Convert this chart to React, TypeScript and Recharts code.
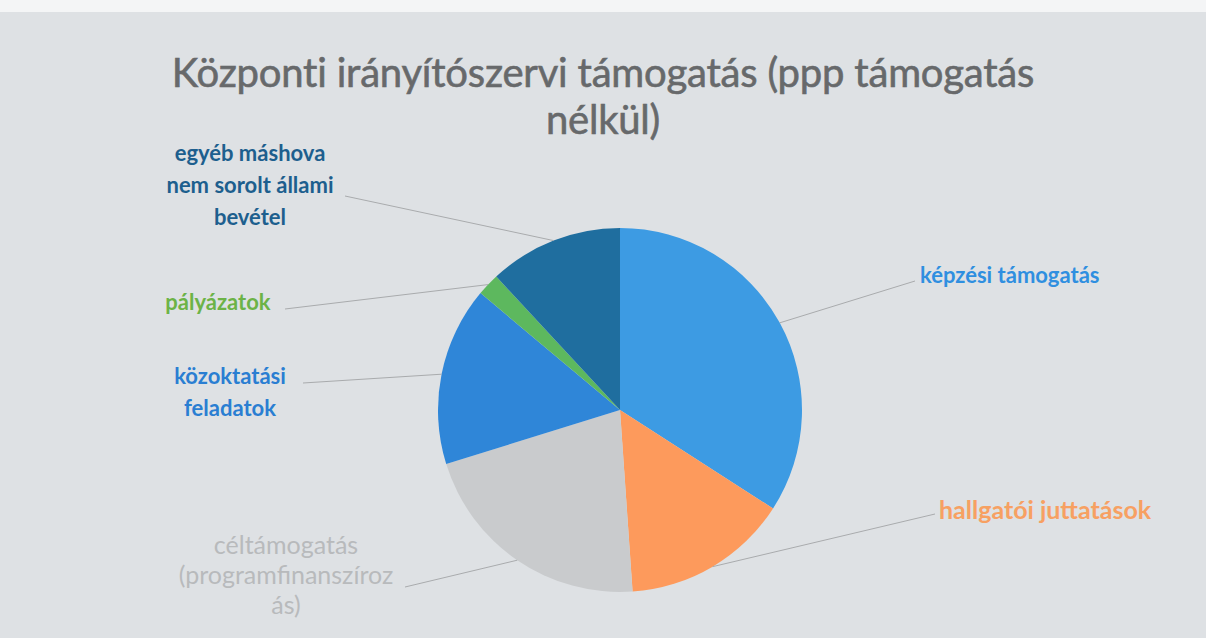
import { PieChart, Pie, Cell } from "recharts";

// slice order: clockwise from 12 o'clock
const categories = [
  "képzési támogatás",
  "hallgatói juttatások",
  "céltámogatás (programfinanszírozás)",
  "közoktatási feladatok",
  "pályázatok",
  "egyéb máshova nem sorolt állami bevétel",
];
const shares = [34.1, 14.8, 21.3, 15.9, 2.0, 11.9];
const labelLines = [
  ["képzési támogatás"],
  ["hallgatói juttatások"],
  ["céltámogatás", "(programfinanszíroz", "ás)"],
  ["közoktatási", "feladatok"],
  ["pályázatok"],
  ["egyéb máshova", "nem sorolt állami", "bevétel"],
];

const colors = ["#3d9be3", "#fd9a5c", "#c9cbcd", "#2f86d8", "#5db85e", "#1f6e9f"];
const textColors = ["#2f8fe0", "#f7a062", "#b8babc", "#2a7ed2", "#6cb347", "#1d5f8e"];

// where each label's leader line ends and the text sits (page coords)
const labelPlace = [
  { lx: 915, ly: 281, tx: 920, ty: 283, anchor: "start", size: 22, weight: 700, gap: 32 },
  { lx: 935, ly: 514, tx: 939, ty: 519, anchor: "start", size: 25, weight: 700, gap: 32 },
  { lx: 405, ly: 587, tx: 286, ty: 554, anchor: "middle", size: 25, weight: 400, gap: 30 },
  { lx: 303, ly: 383, tx: 230, ty: 384, anchor: "middle", size: 22, weight: 700, gap: 32 },
  { lx: 285, ly: 309, tx: 218, ty: 310, anchor: "middle", size: 22, weight: 700, gap: 32 },
  { lx: 345, ly: 196, tx: 250, ty: 161, anchor: "middle", size: 22, weight: 700, gap: 32 },
];

const data = categories.map((name, i) => ({ name, value: shares[i] }));
const RAD = Math.PI / 180;
// PieChart default margin is 5, cx/cy are measured inside it
const M = 5;

function renderLabel(props: any) {
  const { cx, cy, midAngle, outerRadius, index } = props;
  const p = labelPlace[index];
  const ex = cx + outerRadius * Math.cos(-midAngle * RAD);
  const ey = cy + outerRadius * Math.sin(-midAngle * RAD);
  return (
    <g key={"lbl" + index}>
      <line x1={ex} y1={ey} x2={p.lx} y2={p.ly} stroke="#a9abad" strokeWidth={1} />
      <text
        x={p.tx}
        y={p.ty}
        textAnchor={p.anchor}
        fill={textColors[index]}
        fontFamily="Lato, 'Open Sans', sans-serif"
        fontWeight={p.weight}
        fontSize={p.size}
      >
        {labelLines[index].map((ln, j) => (
          <tspan key={j} x={p.tx} dy={j === 0 ? 0 : p.gap}>
            {ln}
          </tspan>
        ))}
      </text>
    </g>
  );
}

export default function App() {
  return (
    <div
      style={{
        position: "fixed",
        left: 0,
        top: 0,
        width: 1206,
        height: 638,
        background: "#dee1e4",
        overflow: "hidden",
      }}
    >
      <div
        style={{
          position: "absolute",
          left: 0,
          top: 0,
          width: 1206,
          height: 12,
          background: "#f4f5f6",
        }}
      />
      <div
        style={{
          position: "absolute",
          left: 0,
          top: 49,
          width: 1206,
          textAlign: "center",
          fontFamily: "Lato, 'Open Sans', sans-serif",
          fontSize: 40,
          lineHeight: "47px",
          color: "#67696b",
          fontWeight: 400,
          letterSpacing: -0.2,
          WebkitTextStroke: "0.6px #67696b",
        }}
      >
        Központi irányítószervi támogatás (ppp támogatás
        <br />
        nélkül)
      </div>
      <PieChart width={1206} height={638} style={{ position: "absolute", left: 0, top: 0 }}>
        <Pie
          data={data}
          dataKey="value"
          nameKey="name"
          cx={620 - M}
          cy={410 - M}
          outerRadius={182}
          startAngle={90}
          endAngle={-270}
          stroke="none"
          label={renderLabel}
          labelLine={false}
          isAnimationActive={false}
        >
          {data.map((d, i) => (
            <Cell key={d.name} fill={colors[i]} />
          ))}
        </Pie>
      </PieChart>
    </div>
  );
}
